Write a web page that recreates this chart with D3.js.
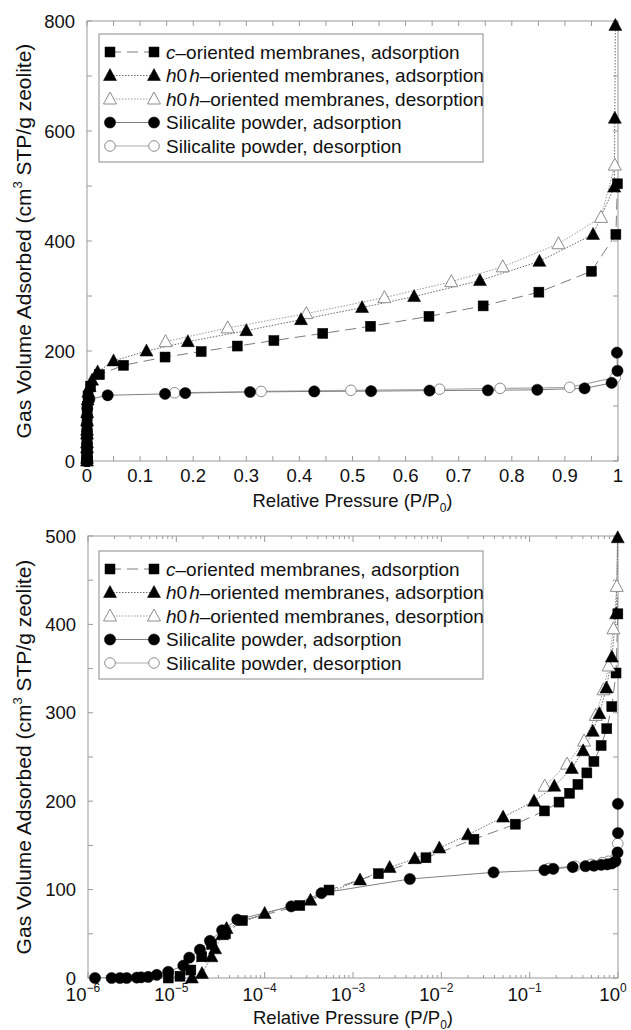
<!DOCTYPE html>
<html>
<head>
<meta charset="utf-8">
<script src="https://cdn.jsdelivr.net/npm/d3@7"></script>
<style>
  html, body { margin: 0; padding: 0; background: #fff; }
  svg { display: block; }
</style>
</head>
<body>
<svg id="fig" width="631" height="1030"></svg>
<script>
// N2 isotherms: [relative pressure P/P0, gas volume adsorbed (cm3 STP/g zeolite)]
const cOrientedAds = [
  [8.1e-6, 0], [1.1e-5, 2], [1.46e-5, 9], [1.94e-5, 24], [2.5e-5, 38], [3.6e-5, 50],
  [5.6e-5, 65], [2.5e-4, 82], [5.35e-4, 99.5], [1.94e-3, 118], [6.7e-3, 136],
  [0.0234, 157], [0.0688, 174], [0.147, 189], [0.215, 199], [0.283, 209], [0.352, 219],
  [0.444, 232], [0.534, 245], [0.644, 263], [0.746, 282], [0.851, 307], [0.950, 345],
  [0.996, 412], [0.999, 504]
];
const h0hAds = [
  [1.5e-5, 0], [1.95e-5, 5], [2.5e-5, 24], [2.75e-5, 33], [3.3e-5, 49], [3.7e-5, 56],
  [1.0e-4, 73], [3.3e-4, 88], [1.2e-3, 111], [2.6e-3, 125], [5.0e-3, 135], [9.5e-3, 147],
  [0.020, 162], [0.050, 182], [0.112, 200], [0.190, 217], [0.300, 237], [0.403, 257],
  [0.518, 279], [0.616, 299], [0.740, 328], [0.852, 363], [0.953, 412], [0.993, 498],
  [0.994, 623], [0.995, 792]
];
const h0hDes = [
  [0.994, 538], [0.968, 443], [0.888, 395], [0.783, 353], [0.686, 326], [0.560, 297],
  [0.413, 268], [0.265, 242], [0.148, 217]
];
const silicaliteAds = [
  [1.2e-6, 0], [1.85e-6, 0], [2.3e-6, 0], [2.74e-6, 0], [3.56e-6, 0.4], [4.0e-6, 0.8],
  [4.8e-6, 1.2], [6.0e-6, 3.5], [8.1e-6, 7], [1.2e-5, 14], [1.4e-5, 23], [1.85e-5, 32],
  [2.4e-5, 42], [3.3e-5, 54], [4.9e-5, 66], [2.0e-4, 81], [4.4e-4, 96], [4.4e-3, 112],
  [0.039, 119.5], [0.147, 122], [0.185, 123.5], [0.307, 125.5], [0.428, 126.5],
  [0.535, 127], [0.645, 128], [0.755, 128.5], [0.848, 129.5], [0.937, 132],
  [0.988, 142], [0.999, 164], [0.998, 197]
];
const silicaliteDes = [
  [0.995, 152], [0.909, 134], [0.778, 132], [0.664, 130.5], [0.497, 128.5],
  [0.328, 126.5], [0.165, 124]
];

// Legend entries, split into [text, italic] runs
const legendLabels = [
  [["c", true], ["\u2013oriented membranes, adsorption", false]],
  [["h", true], ["0", false], ["h", true, 2], ["\u2013oriented membranes, adsorption", false]],
  [["h", true], ["0", false], ["h", true, 2], ["\u2013oriented membranes, desorption", false]],
  [["Silicalite powder, adsorption", false]],
  [["Silicalite powder, desorption", false]]
];

// Axis ticks
const linTicksX = d3.range(0, 21).map(i => i * 0.05);
const linTicksY = d3.range(0, 9).map(i => i * 100);
const logDecades = d3.range(-6, 1);
const logTicksY = d3.range(0, 11).map(i => i * 50);

const FONT = '"Liberation Sans", Arial, Helvetica, sans-serif';
const AXIS = "#9a9a9a";
const INK = "#111";

const seriesDefs = [
  { data: cOrientedAds,  marker: "square",   filled: true,  lineColor: "#7c7c7c", dash: "11,6",   width: 1 },
  { data: h0hAds,        marker: "triangle", filled: true,  lineColor: "#6a6a6a", dash: "1.5,1.5", width: 1 },
  { data: h0hDes,        marker: "triangle", filled: false, lineColor: "#9a9a9a", dash: "1.5,1.5", width: 1 },
  { data: silicaliteAds, marker: "circle",   filled: true,  lineColor: "#808080", dash: null,     width: 1 },
  { data: silicaliteDes, marker: "circle",   filled: false, lineColor: "#ababab", dash: null,     width: 1.2 }
];
const drawOrder = [0, 2, 1, 4, 3];

const svg = d3.select("#fig").style("font-family", FONT);
const defs = svg.append("defs");

function drawMarker(g, type, filled, cx, cy) {
  const fill = filled ? "#000" : "#fff";
  const stroke = filled ? "#000" : "#8c8c8c";
  if (type === "square") {
    g.append("rect").attr("x", cx - 5).attr("y", cy - 5).attr("width", 10).attr("height", 10)
      .attr("fill", fill).attr("stroke", stroke).attr("stroke-width", filled ? 0.5 : 1);
  } else if (type === "triangle") {
    g.append("path")
      .attr("d", `M${cx},${cy - 7}L${cx + 6.5},${cy + 5}L${cx - 6.5},${cy + 5}Z`)
      .attr("fill", fill).attr("stroke", stroke).attr("stroke-width", filled ? 0.5 : 1);
  } else {
    g.append("circle").attr("cx", cx).attr("cy", cy).attr("r", filled ? 5.6 : 5.3)
      .attr("fill", fill).attr("stroke", stroke).attr("stroke-width", filled ? 0.5 : 1);
  }
}

function panel(cfg) {
  const { id, x, y, isLog } = cfg;
  const [X0, X1] = x.range();
  const [Y0, Y1] = y.range();
  const g = svg.append("g");

  defs.append("clipPath").attr("id", id)
    .append("rect").attr("x", X0).attr("y", Y1).attr("width", X1 - X0).attr("height", Y0 - Y1);

  // Frame
  g.append("rect").attr("x", X0).attr("y", Y1).attr("width", X1 - X0).attr("height", Y0 - Y1)
    .attr("fill", "none").attr("stroke", AXIS).attr("stroke-width", 1);

  const ticks = g.append("g").attr("stroke", AXIS).attr("stroke-width", 1);
  const labels = g.append("g").attr("fill", INK).attr("font-size", 18.5);

  // X ticks
  if (!isLog) {
    linTicksX.forEach(v => {
      const px = x(v);
      ticks.append("line").attr("x1", px).attr("x2", px).attr("y1", Y0).attr("y2", Y0 - 5);
      ticks.append("line").attr("x1", px).attr("x2", px).attr("y1", Y1).attr("y2", Y1 + 5);
      const k = Math.round(v * 100);
      if (k % 10 === 0) {
        const txt = k === 0 ? "0" : k === 100 ? "1" : "0." + (k / 10);
        labels.append("text").attr("x", px).attr("y", Y0 + 21).attr("text-anchor", "middle").text(txt);
      }
    });
  } else {
    logDecades.forEach(k => {
      const px = x(Math.pow(10, k));
      ticks.append("line").attr("x1", px).attr("x2", px).attr("y1", Y0).attr("y2", Y0 - 6);
      ticks.append("line").attr("x1", px).attr("x2", px).attr("y1", Y1).attr("y2", Y1 + 6);
      if (k < 0) {
        d3.range(2, 10).forEach(m => {
          const mx = x(m * Math.pow(10, k));
          ticks.append("line").attr("x1", mx).attr("x2", mx).attr("y1", Y0).attr("y2", Y0 - 3);
          ticks.append("line").attr("x1", mx).attr("x2", mx).attr("y1", Y1).attr("y2", Y1 + 3);
        });
      }
      const t = labels.append("text").attr("x", px - 5).attr("y", Y0 + 23).attr("text-anchor", "middle");
      t.append("tspan").text("10");
      t.append("tspan").attr("font-size", 12).attr("dy", -9).text(k === 0 ? "0" : "\u2212" + (-k));
    });
  }

  // Y ticks
  const yTickVals = isLog ? logTicksY : linTicksY;
  const labelEvery = isLog ? 100 : 200;
  yTickVals.forEach(v => {
    const py = y(v);
    ticks.append("line").attr("x1", X0).attr("x2", X0 + 5).attr("y1", py).attr("y2", py);
    ticks.append("line").attr("x1", X1).attr("x2", X1 - 5).attr("y1", py).attr("y2", py);
    if (v % labelEvery === 0) {
      labels.append("text").attr("x", X0 - 12).attr("y", py + 6.5).attr("text-anchor", "end").text(v);
    }
  });

  // Connecting lines
  const lineGen = d3.line().x(d => x(d[0])).y(d => y(d[1]));
  const lines = g.append("g").attr("clip-path", `url(#${id})`);
  drawOrder.forEach(i => {
    const s = seriesDefs[i];
    lines.append("path").attr("d", lineGen(s.data)).attr("fill", "none")
      .attr("stroke", s.lineColor).attr("stroke-width", s.width)
      .attr("stroke-dasharray", s.dash);
  });

  // Markers (only points inside the axis domain)
  const [xd0, xd1] = x.domain();
  const [yd0, yd1] = y.domain();
  const marks = g.append("g");
  drawOrder.forEach(i => {
    const s = seriesDefs[i];
    s.data.filter(d => d[0] >= xd0 && d[0] <= xd1 && d[1] >= yd0 && d[1] <= yd1)
      .forEach(d => drawMarker(marks, s.marker, s.filled, x(d[0]), y(d[1])));
  });

  // Legend
  const lg = g.append("g");
  const top = cfg.legendTop;
  lg.append("rect").attr("x", 99).attr("y", top).attr("width", 384).attr("height", 128)
    .attr("fill", "#fff").attr("stroke", "#8a8a8a").attr("stroke-width", 1);
  seriesDefs.forEach((s, i) => {
    const ry = top + 18 + i * 23.5;
    lg.append("line").attr("x1", 110).attr("x2", 154).attr("y1", ry).attr("y2", ry)
      .attr("stroke", s.lineColor).attr("stroke-width", s.width).attr("stroke-dasharray", s.dash);
    drawMarker(lg, s.marker, s.filled, 110, ry);
    drawMarker(lg, s.marker, s.filled, 154, ry);
    const t = lg.append("text").attr("x", 166).attr("y", ry + 6.5)
      .attr("font-size", 19).attr("fill", INK);
    legendLabels[i].forEach(([txt, it, dx]) => {
      const sp = t.append("tspan").text(txt);
      if (it) sp.attr("font-style", "italic");
      if (dx) sp.attr("dx", dx);
    });
  });

  // Axis titles
  const xt = g.append("text").attr("x", (X0 + X1) / 2).attr("y", Y0 + 46)
    .attr("text-anchor", "middle").attr("font-size", 18.5).attr("fill", INK);
  xt.append("tspan").text("Relative Pressure (P/P");
  xt.append("tspan").attr("font-size", 12).attr("dy", 5).text("0");
  xt.append("tspan").attr("dy", -5).text(")");

  const yc = (Y0 + Y1) / 2;
  const yt = g.append("text").attr("transform", `translate(31,${yc}) rotate(-90)`)
    .attr("text-anchor", "middle").attr("font-size", 21).attr("fill", INK);
  yt.append("tspan").text("Gas Volume Adsorbed (cm");
  yt.append("tspan").attr("font-size", 13).attr("dy", -9).text("3");
  yt.append("tspan").attr("dy", 9).text(" STP/g zeolite)");
}

// Linear-pressure isotherm
panel({
  id: "clipLin",
  x: d3.scaleLinear().domain([0, 1]).range([87, 618]),
  y: d3.scaleLinear().domain([0, 800]).range([461, 21]),
  isLog: false,
  legendTop: 34
});

// Same isotherms on a logarithmic pressure axis
panel({
  id: "clipLog",
  x: d3.scaleLog().domain([1e-6, 1]).range([88, 618]),
  y: d3.scaleLinear().domain([0, 500]).range([978, 536]),
  isLog: true,
  legendTop: 551
});
</script>
</body>
</html>
